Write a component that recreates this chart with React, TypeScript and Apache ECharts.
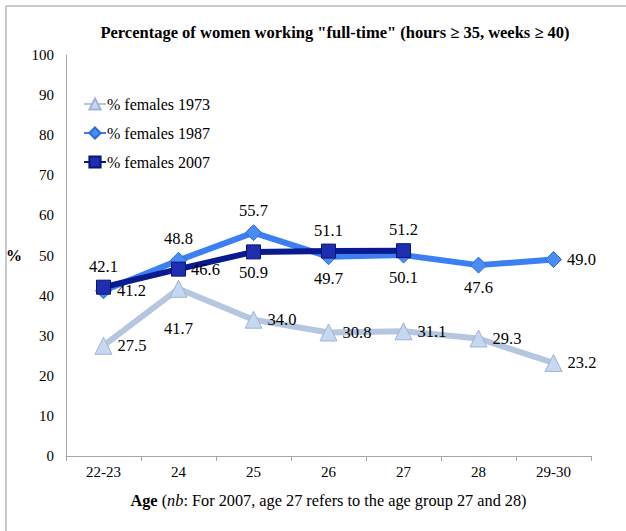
import React, { useEffect, useRef } from "react";
import * as echarts from "echarts";

const categories = ["22-23", "24", "25", "26", "27", "28", "29-30"];
const females1973 = [27.5, 41.7, 34.0, 30.8, 31.1, 29.3, 23.2];
const females1987 = [41.2, 48.8, 55.7, 49.7, 50.1, 47.6, 49.0];
const females2007 = [42.1, 46.6, 50.9, 51.1, 51.2, null, null];
const seriesNames = ["% females 1973", "% females 1987", "% females 2007"];

// label placement (style only)
const pos1973 = ["right", "bottom", "right", "right", "right", "right", "right"];
const dist1973 = [5, 22, 5, 5, 5, 5, 5];
const pos1987 = ["right", "top", "top", "bottom", "bottom", "bottom", "right"];
const pos2007 = ["top", "right", "bottom", "top", "top"];

const FONT = "'Liberation Serif', 'Times New Roman', serif";

const rt = (size: number, extra: any = {}) => ({
  fontFamily: FONT,
  fontSize: size,
  color: "#000",
  ...extra,
});

function withLabels(values: (number | null)[], pos: string[], dist?: number[]) {
  return values.map((v, i) =>
    v == null
      ? null
      : {
          value: v,
          label: {
            position: pos[i] as any,
            distance: dist ? dist[i] : 5,
          },
        }
  );
}

export default function App() {
  const ref = useRef<HTMLDivElement>(null);
  useEffect(() => {
    if (!ref.current) return;
    const chart = echarts.init(ref.current, undefined, { renderer: "svg" });
    const labelBase = {
      show: true,
      ...rt(16.5),
      formatter: (p: any) => Number(p.value).toFixed(1),
    };
    chart.setOption({
      animation: false,
      backgroundColor: "#fff",
      textStyle: { fontFamily: FONT },
      title: {
        text: 'Percentage of women working "full-time" (hours ≥ 35, weeks ≥ 40)',
        left: 330,
        textAlign: "center",
        top: 19,
        textStyle: rt(16.5, { fontWeight: "bold" }),
      },
      graphic: [
        { type: "line", shape: { x1: 6, y1: 6, x2: 626, y2: 6 }, style: { stroke: "#c8c8c8", lineWidth: 2 } },
        { type: "line", shape: { x1: 6, y1: 6, x2: 6, y2: 531 }, style: { stroke: "#c8c8c8", lineWidth: 2 } },
      ],
      legend: {
        orient: "vertical",
        left: 78,
        top: 90,
        itemGap: 11,
        itemWidth: 22,
        itemHeight: 14,
        data: seriesNames,
        textStyle: { ...rt(16), lineHeight: 18, padding: [0, 0, 0, -4] },
      },
      grid: { left: 66, right: 35, top: 55, bottom: 75, containLabel: false },
      xAxis: {
        type: "category",
        data: categories,
        boundaryGap: true,
        axisLine: { lineStyle: { color: "#a6a6a6", width: 1 } },
        axisTick: { show: true, length: 5, lineStyle: { color: "#a6a6a6" } },
        axisLabel: { ...rt(15), margin: 8, interval: 0 },
        name: "{b|Age} ({i|nb}: For 2007, age 27 refers to the age group 27 and 28)",
        nameLocation: "middle",
        nameGap: 36,
        nameTextStyle: {
          ...rt(16.3),
          rich: {
            b: rt(16.3, { fontWeight: "bold" }),
            i: rt(16.3, { fontStyle: "italic" }),
          },
        },
      },
      yAxis: {
        type: "value",
        min: 0,
        max: 100,
        interval: 10,
        splitLine: { show: false },
        axisLine: { show: true, lineStyle: { color: "#a6a6a6", width: 1 } },
        axisTick: { show: false },
        axisLabel: { ...rt(15), margin: 12 },
        name: "%",
        nameLocation: "middle",
        nameRotate: 0,
        nameGap: 44,
        nameTextStyle: rt(16, { fontWeight: "bold" }),
      },
      series: [
        {
          name: seriesNames[0],
          type: "line",
          data: withLabels(females1973, pos1973, dist1973),
          symbol: "triangle",
          symbolSize: 17,
          lineStyle: { color: "#b6c6df", width: 6 },
          itemStyle: { color: "#c6d7f0", borderColor: "#9fb3d5", borderWidth: 1 },
          label: labelBase,
          z: 2,
        },
        {
          name: seriesNames[1],
          type: "line",
          data: withLabels(females1987, pos1987),
          symbol: "diamond",
          symbolSize: 16,
          lineStyle: { color: "#3b7ff3", width: 6 },
          itemStyle: { color: "#4a8df2", borderColor: "#2a6bd6", borderWidth: 1 },
          label: labelBase,
          z: 3,
        },
        {
          name: seriesNames[2],
          type: "line",
          data: withLabels(females2007, pos2007),
          symbol: "rect",
          symbolSize: 14,
          lineStyle: { color: "#09198f", width: 6 },
          itemStyle: { color: "#1d2fae", borderColor: "#0a1478", borderWidth: 1 },
          label: labelBase,
          z: 4,
        },
      ],
    });
    return () => chart.dispose();
  }, []);
  return (
    <div
      ref={ref}
      style={{ position: "fixed", left: 0, top: 0, width: 626, height: 531 }}
    />
  );
}
